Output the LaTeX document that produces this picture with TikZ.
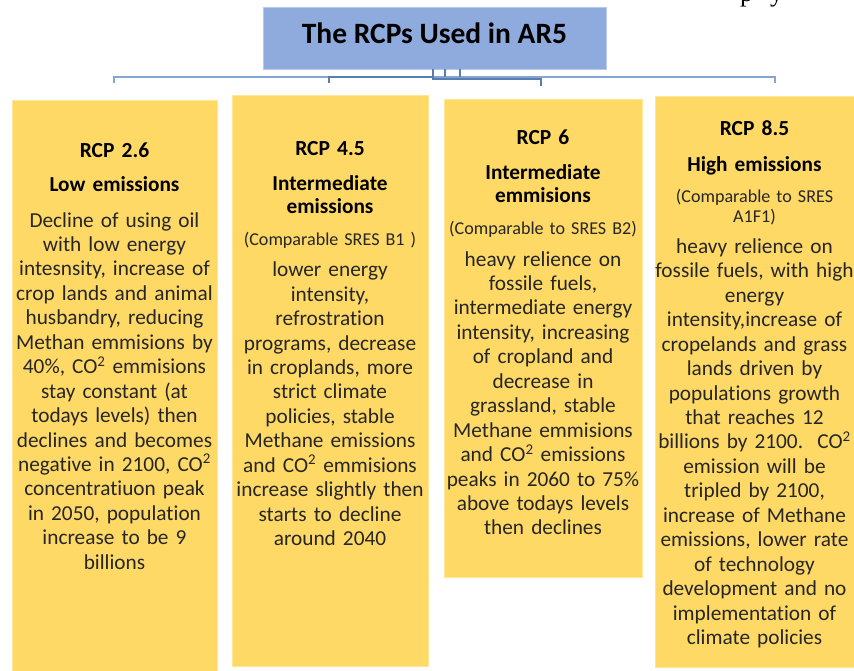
\documentclass[tikz,border=0pt]{standalone}
\usepackage{fontspec}
\setmainfont{Carlito}[Ligatures=NoCommon]
\newfontfamily\fragfont{Liberation Serif}
\definecolor{boxyellow}{RGB}{255,217,102}
\definecolor{boxedge}{RGB}{255,229,150}
\definecolor{titleblue}{RGB}{143,170,220}
\definecolor{titleedge}{RGB}{184,202,233}
\definecolor{linelight}{RGB}{132,166,208}
\definecolor{linedark}{RGB}{88,126,176}
\definecolor{bodytext}{RGB}{38,38,38}
\begin{document}
\begin{tikzpicture}[x=1pt,y=-1pt,
  rcpbox/.style={draw=boxedge,line width=0.8pt,fill=boxyellow,inner sep=0pt,anchor=north west},
  titlebox/.style={draw=titleedge,line width=1pt,fill=titleblue,inner sep=0pt,anchor=north west},
  titletxt/.style={anchor=base,inner sep=0pt,font=\bfseries\fontsize{29.5}{32}\selectfont},
  headtxt/.style={anchor=base,inner sep=0pt,text width=260pt,align=center,font=\bfseries\fontsize{21.5}{22.6}\selectfont},
  subtxt/.style={anchor=base,inner sep=0pt,text width=260pt,align=center,font=\bfseries\fontsize{21.3}{23.2}\selectfont},
  parentxt/.style={anchor=base,inner sep=0pt,text width=260pt,align=center,text=bodytext,font=\fontsize{18.1}{20}\selectfont},
  bodytxt/.style={anchor=base,inner sep=0pt,text width=260pt,align=center,text=bodytext,font=\fontsize{21.3}{24.45}\selectfont},
  connlight/.style={draw=linelight,line width=1.6pt},
  conndark/.style={draw=linedark,line width=1.2pt},
  fragtxt/.style={anchor=base west,inner sep=0pt,font=\fragfont\fontsize{26}{26}\selectfont}
]
\useasboundingbox (0,0) rectangle (854,670);
\fill[white] (0,0) rectangle (854,670);

% cropped fragments at top right
\node[fragtxt] (frag1) at (740,1.5) {p};
\node[fragtxt] (frag2) at (770,1.5) {y};

% title
\node[titlebox,minimum width=343pt,minimum height=62pt] (title) at (263,7) {};
\node[titletxt] (titletext) at (434.5,43) {The RCPs Used in AR5};

% boxes
\node[rcpbox,minimum width=205pt,minimum height=572pt] (b1) at (12,100) {};
\node[rcpbox,minimum width=196pt,minimum height=571pt] (b2) at (232,95) {};
\node[rcpbox,minimum width=198pt,minimum height=478pt] (b3) at (444,99) {};
\node[rcpbox,minimum width=202pt,minimum height=571pt] (b4) at (655,96) {};

% connectors
\coordinate (c1) at (114,83);
\coordinate (c2) at (329,83);
\coordinate (c3) at (541,86);
\coordinate (c4) at (775,83);
\coordinate (s1) at (433,69);
\coordinate (s2) at (445,69);
\coordinate (s3) at (460,69);
\draw[connlight] (c1) -- ++(0,-6) -| (c4);
\draw[conndark] (c2) -- ++(0,-6) -| (s1);
\draw[conndark] (s1) -- ++(0,10) -| (c3);
\draw[conndark] (s2) -- ++(0,8);
\draw[conndark] (s3) -- ++(0,8);

% box 1
\node[headtxt] (h1) at (114.5,157.7) {RCP 2.6};
\node[subtxt] (u1) at (114.5,191.5) {Low emissions};
\node[bodytxt] (t1) at (114.5,227) {Decline of using oil\\
with low energy\\
intesnsity, increase of\\
crop lands and animal\\
husbandry, reducing\\
Methan emmisions by\\
40\%, CO\textsuperscript{2} emmisions\\
stay constant (at\\
todays levels) then\\
declines and becomes\\
negative in 2100, CO\textsuperscript{2}\\
concentratiuon peak\\
in 2050, population\\
increase to be 9\\
billions};

% box 2
\node[headtxt] (h2) at (330,155.7) {RCP 4.5};
\node[subtxt] (u2) at (330,190.7) {Intermediate\\emissions};
\node[parentxt] (p2) at (330,245) {(Comparable SRES B1 )};
\node[bodytxt] (t2) at (330,276.7) {lower energy\\
intensity,\\
refrostration\\
programs, decrease\\
in croplands, more\\
strict climate\\
policies, stable\\
Methane emissions\\
and CO\textsuperscript{2} emmisions\\
increase slightly then\\
starts to decline\\
around 2040};

% box 3
\node[headtxt] (h3) at (543,144.3) {RCP 6};
\node[subtxt] (u3) at (543,179.3) {Intermediate\\emmisions};
\node[parentxt] (p3) at (543,234) {(Comparable to SRES B2)};
\node[bodytxt] (t3) at (543,266) {heavy relience on\\
fossile fuels,\\
intermediate energy\\
intensity, increasing\\
of cropland and\\
decrease in\\
grassland, stable\\
Methane emmisions\\
and CO\textsuperscript{2} emissions\\
peaks in 2060 to 75\%\\
above todays levels\\
then declines};

% box 4
\node[headtxt] (h4) at (754.5,135.7) {RCP 8.5};
\node[subtxt] (u4) at (754.5,171.7) {High emissions};
\node[parentxt] (p4) at (754.5,202.7) {(Comparable to SRES\\A1F1)};
\node[bodytxt] (t4) at (754.5,253.3) {heavy relience on\\
fossile fuels, with high\\
energy\\
intensity,increase of\\
cropelands and grass\\
lands driven by\\
populations growth\\
that reaches 12\\
billions by 2100.\ \ CO\textsuperscript{2}\\
emission will be\\
tripled by 2100,\\
increase of Methane\\
emissions, lower rate\\
of technology\\
development and no\\
implementation of\\
climate policies};
\end{tikzpicture}
\end{document}
